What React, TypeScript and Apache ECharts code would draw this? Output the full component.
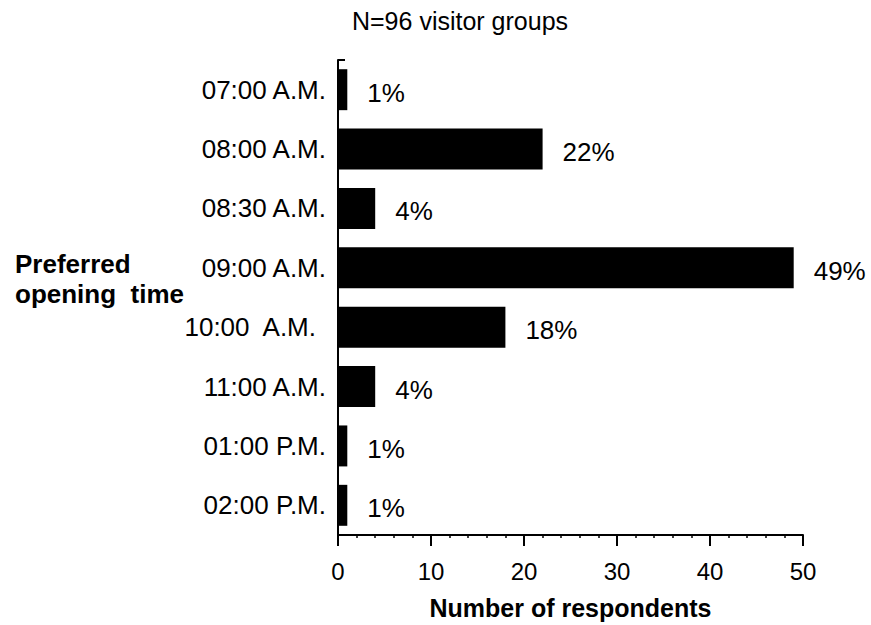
import { useEffect, useRef } from "react";
import * as echarts from "echarts";

const categories = [
  "07:00 A.M.",
  "08:00 A.M.",
  "08:30 A.M.",
  "09:00 A.M.",
  "10:00  A.M.",
  "11:00 A.M.",
  "01:00 P.M.",
  "02:00 P.M.",
];
const respondents = [1, 22, 4, 49, 18, 4, 1, 1];
const percentLabels = ["1%", "22%", "4%", "49%", "18%", "4%", "1%", "1%"];
const xMin = 0;
const xMax = 50;
const xInterval = 10;
const titleText = "N=96 visitor groups";
const xAxisName = "Number of respondents";
const yAxisName = "Preferred\nopening  time";

const FONT = '"Liberation Sans", Arial, Helvetica, sans-serif';

export default function App() {
  const ref = useRef<HTMLDivElement>(null);

  useEffect(() => {
    if (!ref.current) return;
    const chart = echarts.init(ref.current, null, { renderer: "svg" });
    const option: any = {
      animation: false,
      backgroundColor: "#ffffff",
      textStyle: { fontFamily: FONT },
      grid: { left: 338, right: 68, top: 60, bottom: 85, containLabel: false },
      xAxis: {
        type: "value",
        min: xMin,
        max: xMax,
        interval: xInterval,
        axisLine: { show: true, lineStyle: { color: "#000", width: 2 } },
        axisTick: { show: true, length: 11, lineStyle: { color: "#000", width: 2 } },
        minorTick: { show: true, splitNumber: 5, length: 3, lineStyle: { color: "#000", width: 1.5 } },
        splitLine: { show: false },
        minorSplitLine: { show: false },
        axisLabel: { color: "#000", fontSize: 24, margin: 24, fontFamily: FONT },
        name: xAxisName,
        nameLocation: "middle",
        nameGap: 60,
        nameTextStyle: { color: "#000", fontSize: 25, fontWeight: "bold", fontFamily: FONT },
      },
      yAxis: {
        type: "category",
        data: categories,
        inverse: true,
        axisLine: { show: true, lineStyle: { color: "#000", width: 2 } },
        axisTick: {
          show: true,
          inside: true,
          length: 7,
          interval: (i: number) => i === 0,
          lineStyle: { color: "#000", width: 2 },
        },
        splitLine: { show: false },
        axisLabel: {
          color: "#000",
          fontSize: 26,
          margin: 12,
          fontFamily: FONT,
          interval: 0,
          formatter: (v: string, i: number) => (i === 4 ? `{s|${v}}` : v),
          rich: { s: { padding: [0, 10, 0, 0], fontSize: 26, color: "#000", fontFamily: FONT } },
        },
      },
      series: [
        {
          type: "bar",
          data: respondents,
          barCategoryGap: "31%",
          itemStyle: { color: "#000" },
          label: {
            show: true,
            position: "right",
            distance: 20,
            offset: [0, 3],
            formatter: (p: any) => percentLabels[p.dataIndex],
            color: "#000",
            fontSize: 26,
            fontFamily: FONT,
          },
        },
      ],
      graphic: [
        {
          type: "text",
          x: 460,
          y: 21,
          style: {
            text: titleText,
            fill: "#000",
            font: `25px ${FONT}`,
            textAlign: "center",
            textVerticalAlign: "middle",
          },
        },
        {
          type: "text",
          x: 15,
          y: 279,
          style: {
            text: yAxisName,
            fill: "#000",
            font: `bold 26px ${FONT}`,
            textAlign: "left",
            textVerticalAlign: "middle",
            lineHeight: 30,
          },
        },
      ],
    };
    chart.setOption(option);
    return () => chart.dispose();
  }, []);

  return (
    <div
      ref={ref}
      style={{ position: "absolute", left: 0, top: 0, width: 871, height: 625 }}
    />
  );
}
